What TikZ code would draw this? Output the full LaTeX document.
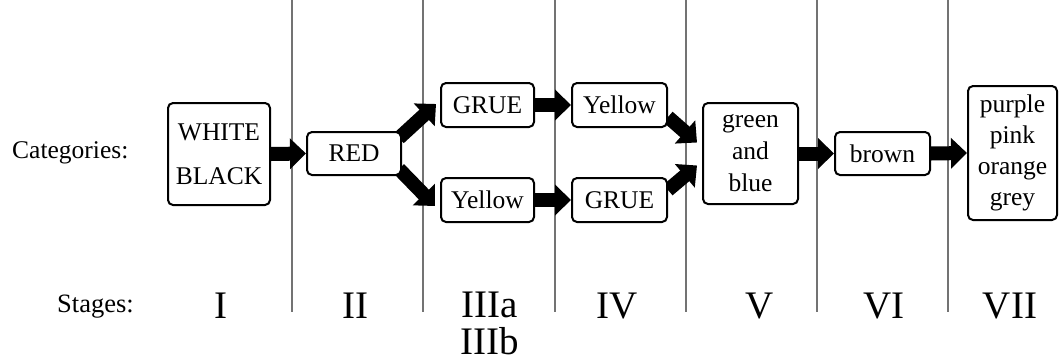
\documentclass[tikz,border=0pt]{standalone}
\usepackage{fontspec}
\setmainfont{Liberation Serif}
\usetikzlibrary{arrows.meta,calc}
\pgfdeclarelayer{bg}
\pgfsetlayers{bg,main}
\begin{document}
\begin{tikzpicture}[x=1pt,y=-1pt,
  box/.style={draw=black,line width=2pt,rounded corners=5pt,fill=white,inner sep=0pt,
    align=center,font=\fontsize{25.5}{32}\selectfont},
  bigarrow/.style={line width=14pt,-{Triangle[width=30pt,length=16pt]}},
  sep/.style={draw=black!55,line width=1.5pt},
  stage/.style={anchor=base,inner sep=0pt,font=\fontsize{39}{37}\selectfont,align=center},
  lbl/.style={inner sep=0pt,font=\fontsize{25.5}{30}\selectfont}]
\useasboundingbox (0,0) rectangle (1060,362);
% labels
\node[lbl,anchor=west] (cat) at (12,153) {Categories:};
\node[lbl,anchor=base west,font=\fontsize{26.5}{30}\selectfont] (stg) at (57,312) {Stages:};
% boxes
\node[box,minimum width=102pt,minimum height=102pt,font=\fontsize{25.5}{44}\selectfont] (wb) at (219,154) {WHITE\\BLACK};
\node[box,minimum width=94pt,minimum height=43pt] (red) at (354,153.5) {RED};
\node[box,minimum width=93pt,minimum height=44pt] (grue1) at (487.5,105) {GRUE};
\node[box,minimum width=93pt,minimum height=44pt] (yel2) at (487.5,200) {Yellow};
\node[box,minimum width=95pt,minimum height=44pt] (yel1) at (619.5,105) {Yellow};
\node[box,minimum width=95pt,minimum height=44pt] (grue2) at (619.5,200) {GRUE};
\node[box,minimum width=95pt,minimum height=101pt] (gb) at (750.5,153.5) {green\\and\\blue};
\node[box,minimum width=95pt,minimum height=43pt] (brown) at (882.5,153.5) {brown};
\node[box,minimum width=89pt,minimum height=134pt,font=\fontsize{25.5}{31}\selectfont] (pp) at (1012.5,153) {purple\\pink\\orange\\grey};
% stage numerals
\node[stage] (st1) at (221,318) {I};
\node[stage] (st2) at (355,318) {II};
\node[stage,anchor=north] (st3) at (490,292) {IIIa\\IIIb};
\node[stage] (st4) at (617,318) {IV};
\node[stage] (st5) at (760,318) {V};
\node[stage] (st6) at (884,318) {VI};
\node[stage] (st7) at (1010,318) {VII};
\begin{pgfonlayer}{bg}
% separators
\foreach \x/\n in {292/s1,423/s2,555/s3,686/s4,817/s5,948/s6}{
  \coordinate (\n t) at (\x,0);
  \coordinate (\n b) at (\x,312);
  \draw[sep] (\n t) -- (\n b);
}
% connectors
\coordinate (r1) at ($(red.north east)+(-3,7)$);
\coordinate (r2) at ($(red.south east)+(-3,-7)$);
\coordinate (g1) at ($(grue1.west)+(-4,-1)$);
\coordinate (y2) at ($(yel2.west)+(-5,6)$);
\coordinate (ya) at ($(yel1.east)+(0,12)$);
\coordinate (gra) at ($(grue2.east)+(0,-10)$);
\coordinate (gb1) at ($(gb.west)+(-5,-11)$);
\coordinate (gb2) at ($(gb.west)+(-5,12)$);
\draw[bigarrow] (wb.east) -- (red.west);
\draw[bigarrow] (r1) -- (g1);
\draw[bigarrow] (r2) -- (y2);
\draw[bigarrow] (grue1.east) -- (yel1.west);
\draw[bigarrow] (yel2.east) -- (grue2.west);
\draw[bigarrow] (ya) -- (gb1);
\draw[bigarrow] (gra) -- (gb2);
\draw[bigarrow] (gb.east) -- (brown.west);
\draw[bigarrow] (brown.east) -- (pp.west);
\end{pgfonlayer}
\end{tikzpicture}
\end{document}
